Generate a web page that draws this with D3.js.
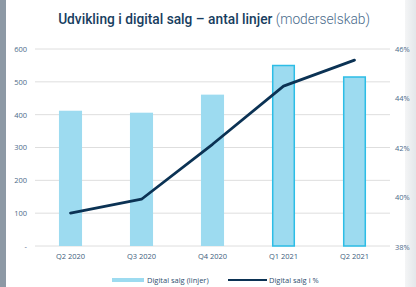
<!DOCTYPE html>
<html><head><meta charset="utf-8">
<script src="https://cdn.jsdelivr.net/npm/d3@7"></script>
<style>html,body{margin:0;padding:0;background:#fff;}svg{display:block;}</style>
</head><body>
<svg id="chart" width="416" height="287"></svg>
<script>
const categories = ["Q2 2020", "Q3 2020", "Q4 2020", "Q1 2021", "Q2 2021"];
const salesLines = [412, 406, 461, 552, 517];
const digitalPct = [39.37, 39.93, 42.15, 44.5, 45.55];
const highlighted = [false, false, false, true, true];
const leftTicks = [0, 100, 200, 300, 400, 500, 600];
const rightTicks = [38, 40, 42, 44, 46];
const legendLabels = ["Digital salg (linjer)", "Digital salg i %"];

const svg = d3.select("#chart");
const W = 416, H = 287;
const m = {left: 35, right: 390, top: 49, bottom: 246};

// page frame
svg.append("rect").attr("x",0).attr("y",0).attr("width",W).attr("height",H).attr("fill","#fff");
const grad = svg.append("defs").append("linearGradient").attr("id","rg").attr("x1","0").attr("x2","1");
grad.append("stop").attr("offset","0").attr("stop-color","#f4f5f6");
grad.append("stop").attr("offset","1").attr("stop-color","#e4e7ea");
svg.append("rect").attr("x",405).attr("y",0).attr("width",11).attr("height",H).attr("fill","url(#rg)");
svg.append("rect").attr("x",0).attr("y",0).attr("width",6).attr("height",H).attr("fill","#8d99a5");

const x = d3.scaleBand().domain(categories).range([m.left, m.right]).paddingInner(0.675).paddingOuter(0.3375);
const yL = d3.scaleLinear().domain([0, 600]).range([m.bottom, m.top]);
const yR = d3.scaleLinear().domain([38, 46]).range([m.bottom + 1, m.top]);

// gridlines
svg.append("g").selectAll("line").data(leftTicks).join("line")
  .attr("x1", m.left).attr("x2", m.right)
  .attr("y1", d => yL(d)).attr("y2", d => yL(d))
  .attr("stroke", "#dedede").attr("stroke-width", 1);

// left axis
const axL = d3.axisLeft(yL).tickValues(leftTicks).tickSize(0).tickPadding(0)
  .tickFormat(d => d === 0 ? "-" : d3.format("d")(d));
const gL = svg.append("g").attr("transform", `translate(${m.left - 8},0)`).call(axL);
gL.select(".domain").remove();
gL.selectAll("text").attr("font-family","'Open Sans', sans-serif").attr("font-size",7.5)
  .attr("fill","#4d6b8a").attr("text-anchor","end").attr("dy","0.32em");

// right axis
const axR = d3.axisRight(yR).tickValues(rightTicks).tickSize(0).tickPadding(0)
  .tickFormat(d => d + "%");
const gR = svg.append("g").attr("transform", `translate(${m.right + 5},0)`).call(axR);
gR.select(".domain").remove();
gR.selectAll("text").attr("font-family","'Open Sans', sans-serif").attr("font-size",7.5)
  .attr("fill","#4d6b8a").attr("dy","0.32em");

// bars
svg.append("g").selectAll("rect").data(categories).join("rect")
  .attr("x", (d,i) => x(d) + (highlighted[i] ? 0.75 : 0))
  .attr("width", (d,i) => x.bandwidth() - (highlighted[i] ? 1.5 : 0))
  .attr("y", (d,i) => yL(salesLines[i]) + (highlighted[i] ? 0.75 : 0))
  .attr("height", (d,i) => yL(0) - yL(salesLines[i]) - (highlighted[i] ? 0.75 : 0))
  .attr("fill", "#9ddbf0")
  .attr("stroke", (d,i) => highlighted[i] ? "#2dbde6" : "none")
  .attr("stroke-width", 1.5);

// category labels
const axX = d3.axisBottom(x).tickSize(0).tickPadding(0);
const gX = svg.append("g").attr("transform", `translate(0,${m.bottom + 8})`).call(axX);
gX.select(".domain").remove();
gX.selectAll("text").attr("font-family","'Open Sans', sans-serif").attr("font-size",7.5)
  .attr("fill","#3d5c7d").attr("dy","0.71em");

// line
const line = d3.line().x((d,i) => x(categories[i]) + x.bandwidth()/2).y(d => yR(d));
svg.append("path").datum(digitalPct).attr("d", line)
  .attr("fill","none").attr("stroke","#0b3254").attr("stroke-width",2.8)
  .attr("stroke-linejoin","round").attr("stroke-linecap","round");

// title
const title = svg.append("text").attr("x", 214).attr("y", 24).attr("text-anchor","middle")
  .attr("font-family","Roboto, sans-serif").attr("font-size",14);
title.append("tspan").attr("font-weight",500).attr("fill","#173d60").text("Udvikling i digital salg – antal linjer ");
title.append("tspan").attr("font-weight",300).attr("fill","#4a6b8c").text("(moderselskab)");
const tw = title.node().getComputedTextLength();
const targetW = 312;
if (tw > 0) title.attr("font-size", 14 * targetW / tw);

// legend
const lg = svg.append("g").attr("font-family","'Open Sans', sans-serif").attr("font-size",7.5).attr("fill","#2f4f70");
lg.append("rect").attr("x",112).attr("y",278).attr("width",32).attr("height",4).attr("fill","#9ddbf0");
lg.append("text").attr("x",147).attr("y",280).attr("dy","0.35em").text(legendLabels[0]);
lg.append("line").attr("x1",228).attr("x2",267).attr("y1",280).attr("y2",280).attr("stroke","#0b3254").attr("stroke-width",2);
lg.append("text").attr("x",269).attr("y",280).attr("dy","0.35em").text(legendLabels[1]);
</script>
</body></html>
